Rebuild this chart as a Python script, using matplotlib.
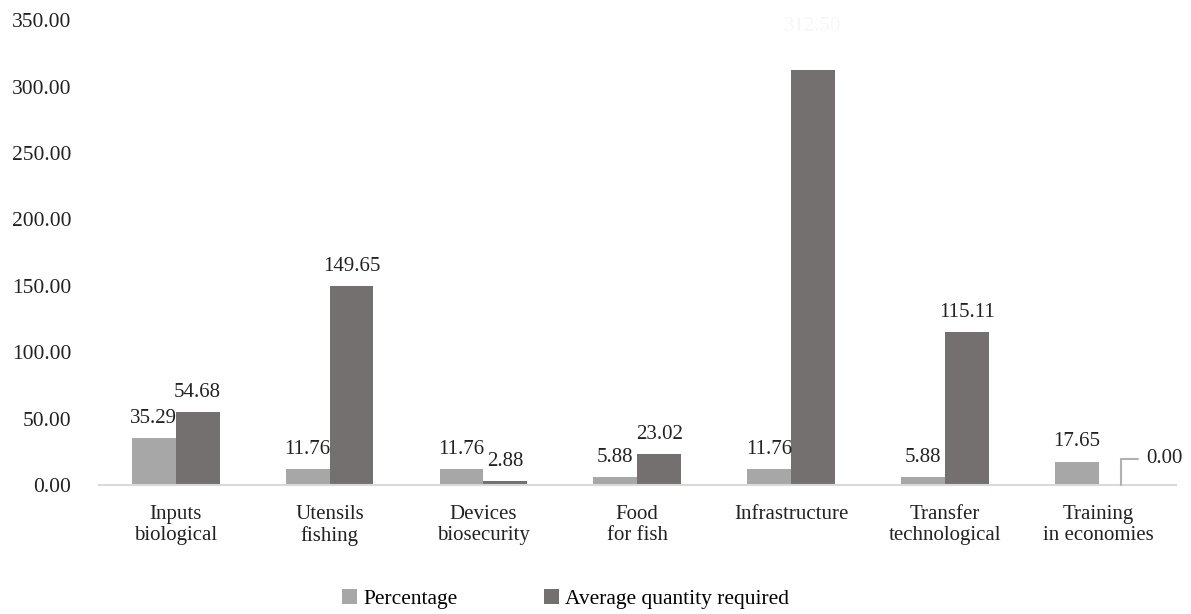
import numpy as np
import matplotlib.pyplot as plt

# Data
categories = ['Inputs\nbiological', 'Utensils\nfishing', 'Devices\nbiosecurity', 'Food\nfor fish',
              'Infrastructure', 'Transfer\ntechnological', 'Training\nin economies']
percentage = [35.29, 11.76, 11.76, 5.88, 11.76, 5.88, 17.65]
avg_quantity = [54.68, 149.65, 2.88, 23.02, 312.50, 115.11, 0.00]

light = '#a7a7a7'
dark = '#747070'

plt.rcParams['font.family'] = ['Liberation Serif', 'DejaVu Serif']

fig = plt.figure(figsize=(11.91, 6.14), dpi=100)
ax = fig.add_axes([0.083, 0.21, 0.904, 0.757])

x = np.arange(len(categories))
w = 0.285
b1 = ax.bar(x - w / 2, percentage, w, color=light, label='Percentage')
b2 = ax.bar(x + w / 2, avg_quantity, w, color=dark, label='Average quantity required')

fs = 15
# value labels
for i in range(len(categories)):
    ax.text(x[i] - w / 2, percentage[i] + 8, '%.2f' % percentage[i],
            ha='center', va='bottom', fontsize=fs, color='#222222')
    if i == 4:
        # label barely visible in the source
        ax.text(x[i] + w / 2, 345, '%.2f' % avg_quantity[i],
                ha='center', va='center', fontsize=fs, color='#f7f7f7')
    elif i == 6:
        ax.annotate('%.2f' % avg_quantity[i], xy=(x[i] + w / 2, avg_quantity[i]),
                    xytext=(x[i] + w / 2 + 0.17, 20), ha='left', va='center',
                    fontsize=fs, color='#222222',
                    arrowprops=dict(arrowstyle='-', color='#b0b0b0', lw=1.5,
                                    connectionstyle='angle,angleA=0,angleB=90,rad=0',
                                    shrinkA=4, shrinkB=0))
    else:
        ax.text(x[i] + w / 2, avg_quantity[i] + 8, '%.2f' % avg_quantity[i],
                ha='center', va='bottom', fontsize=fs, color='#222222')

ax.set_xlim(-0.5, len(categories) - 0.5)
ax.set_ylim(0, 350)
ax.set_yticks(np.arange(0, 351, 50))
ax.set_yticklabels(['%.2f' % v for v in np.arange(0, 351, 50)], fontsize=fs + 0.5, color='#222222')
ax.set_xticks(x)
ax.set_xticklabels(categories, fontsize=fs, color='#222222', linespacing=1.15)
ax.tick_params(axis='both', length=0)
ax.tick_params(axis='x', pad=14)
ax.tick_params(axis='y', pad=20)

for s in ['top', 'right', 'left']:
    ax.spines[s].set_visible(False)
ax.spines['bottom'].set_color('#d9d9d9')
ax.spines['bottom'].set_linewidth(1.5)

fig.legend(handles=[b1, b2], loc='lower center', bbox_to_anchor=(0.475, -0.024), ncol=2,
           frameon=False, fontsize=fs + 0.5, handlelength=0.7, handleheight=0.7,
           handletextpad=0.3, columnspacing=4.0)

plt.savefig('out.png', dpi=100)
